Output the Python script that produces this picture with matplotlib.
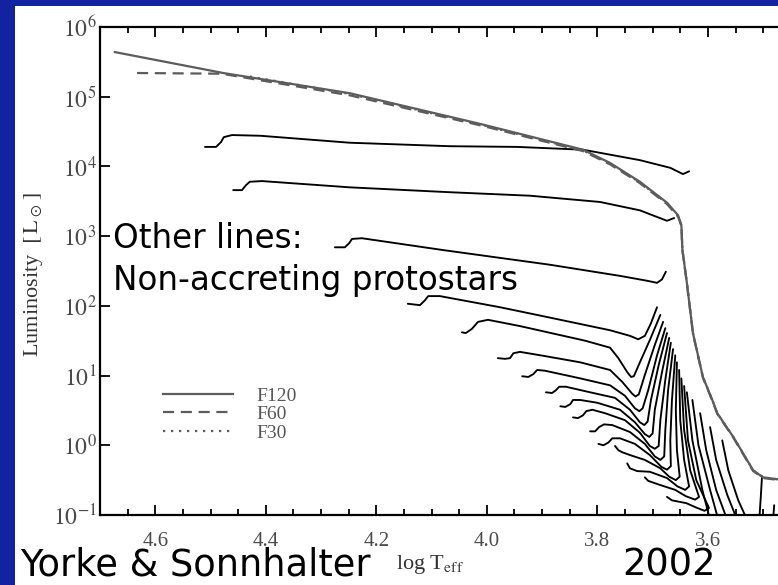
import matplotlib
matplotlib.use("Agg")
import matplotlib.pyplot as plt
import numpy as np
from matplotlib.patches import Rectangle
from matplotlib.lines import Line2D
from matplotlib.ticker import FixedLocator, MultipleLocator, NullLocator

plt.rcParams['mathtext.fontset'] = 'stix'

# ---------------- data: log Teff and log L ----------------
# accreting protostar tracks
f120_logt = [4.673, 4.477, 4.248, 4.012, 3.826, 3.777, 3.723, 3.674, 3.654, 3.648,
             3.646, 3.638, 3.627, 3.609, 3.592, 3.583, 3.554, 3.518, 3.500, 3.451]
f120_logl = [5.64, 5.34, 5.05, 4.61, 4.24, 4.05, 3.78, 3.48, 3.30, 3.16,
             2.80, 2.33, 1.61, 0.98, 0.65, 0.46, 0.12, -0.36, -0.46, -0.51]

f60_logt = [4.633, 4.480, 4.248, 4.012, 3.826, 3.777, 3.723, 3.674, 3.654, 3.648,
            3.646, 3.638, 3.627, 3.609, 3.592, 3.583, 3.554, 3.518, 3.500, 3.451]
f60_logl = [5.34, 5.33, 5.02, 4.59, 4.22, 4.03, 3.76, 3.46, 3.28, 3.15,
            2.79, 2.32, 1.60, 0.97, 0.64, 0.45, 0.11, -0.37, -0.47, -0.52]

f30_logt = [4.429, 4.248, 4.012, 3.826, 3.777, 3.723, 3.674, 3.654, 3.648,
            3.646, 3.638, 3.627, 3.609, 3.592, 3.583, 3.554, 3.518, 3.500, 3.451]
f30_logl = [5.29, 5.04, 4.60, 4.23, 4.04, 3.77, 3.47, 3.29, 3.15,
            2.80, 2.33, 1.61, 0.98, 0.65, 0.46, 0.12, -0.36, -0.46, -0.51]

# non-accreting pre-main-sequence tracks
pms_a_logt = [4.510, 4.490, 4.481, 4.476, 4.461, 4.410, 4.248, 4.067, 3.945, 3.826, 3.723, 3.668, 3.645, 3.634]
pms_a_logl = [4.28, 4.28, 4.35, 4.42, 4.45, 4.44, 4.34, 4.29, 4.28, 4.24, 4.09, 3.98, 3.89, 3.93]

pms_b_logt = [4.459, 4.443, 4.436, 4.429, 4.407, 4.248, 4.067, 3.922, 3.795, 3.723, 3.674, 3.661]
pms_b_logl = [3.66, 3.66, 3.73, 3.78, 3.79, 3.70, 3.63, 3.58, 3.49, 3.37, 3.22, 3.26]

pms_c_logt = [4.275, 4.257, 4.249, 4.244, 4.226, 4.079, 3.886, 3.759, 3.710, 3.692, 3.683, 3.676]
pms_c_logl = [2.84, 2.84, 2.90, 2.96, 2.97, 2.80, 2.59, 2.43, 2.36, 2.33, 2.38, 2.49]

pms_d_logt = [3.692, 3.703, 3.714, 3.726, 3.741, 3.777, 3.891, 3.976, 4.085, 4.106, 4.112, 4.121, 4.143]
pms_d_logl = [1.98, 1.75, 1.57, 1.52, 1.57, 1.65, 1.84, 1.98, 2.14, 2.14, 2.08, 2.01, 2.03]

pms_e_logt = [3.686, 3.705, 3.723, 3.734, 3.739, 3.746, 3.762, 3.777, 3.822, 3.867, 3.940, 3.998, 4.016, 4.027, 4.038, 4.045]
pms_e_logl = [1.87, 1.51, 1.19, 0.99, 0.98, 1.05, 1.25, 1.40, 1.50, 1.58, 1.71, 1.80, 1.77, 1.67, 1.61, 1.62]

pms_f_logt = [3.681, 3.696, 3.714, 3.725, 3.731, 3.737, 3.755, 3.777, 3.831, 3.895, 3.940, 3.952, 3.958, 3.967, 3.980]
pms_f_logl = [1.77, 1.44, 1.01, 0.73, 0.70, 0.74, 0.91, 1.08, 1.19, 1.28, 1.34, 1.32, 1.25, 1.24, 1.25]

pms_g_logt = [3.677, 3.692, 3.708, 3.718, 3.724, 3.732, 3.750, 3.777, 3.831, 3.895, 3.909, 3.916, 3.925, 3.936]
pms_g_logl = [1.68, 1.29, 0.79, 0.53, 0.49, 0.53, 0.71, 0.86, 0.96, 1.07, 1.08, 1.02, 0.98, 0.99]

pms_h_logt = [3.674, 3.689, 3.703, 3.709, 3.715, 3.723, 3.741, 3.768, 3.813, 3.857, 3.869, 3.875, 3.882, 3.893]
pms_h_logl = [1.61, 1.15, 0.65, 0.34, 0.29, 0.33, 0.51, 0.68, 0.76, 0.84, 0.84, 0.79, 0.75, 0.76]

pms_i_logt = [3.670, 3.683, 3.696, 3.700, 3.706, 3.714, 3.732, 3.759, 3.800, 3.831, 3.844, 3.849, 3.858, 3.867]
pms_i_logl = [1.54, 1.05, 0.51, 0.17, 0.12, 0.16, 0.33, 0.51, 0.61, 0.65, 0.65, 0.59, 0.55, 0.56]

pms_j_logt = [3.667, 3.677, 3.686, 3.689, 3.696, 3.705, 3.723, 3.750, 3.786, 3.809, 3.820, 3.826, 3.835, 3.844]
pms_j_logl = [1.47, 0.94, 0.36, -0.01, -0.05, -0.01, 0.18, 0.36, 0.46, 0.51, 0.49, 0.43, 0.39, 0.40]

pms_k_logt = [3.663, 3.672, 3.677, 3.679, 3.686, 3.696, 3.714, 3.741, 3.773, 3.788, 3.797, 3.804, 3.813]
pms_k_logl = [1.38, 0.79, 0.22, -0.16, -0.21, -0.16, 0.02, 0.19, 0.29, 0.30, 0.26, 0.20, 0.20]

pms_l_logt = [3.659, 3.665, 3.668, 3.667, 3.674, 3.684, 3.705, 3.732, 3.759, 3.773, 3.780, 3.789, 3.798]
pms_l_logl = [1.29, 0.65, 0.07, -0.30, -0.35, -0.31, -0.14, 0.02, 0.10, 0.10, 0.04, 0.00, 0.02]

pms_m_logt = [3.656, 3.658, 3.656, 3.651, 3.658, 3.670, 3.686, 3.714, 3.741, 3.755, 3.762, 3.768]
pms_m_logl = [1.19, 0.51, -0.07, -0.45, -0.50, -0.45, -0.33, -0.21, -0.14, -0.10, -0.07, -0.01]

pms_n_logt = [3.652, 3.650, 3.643, 3.634, 3.641, 3.655, 3.674, 3.705, 3.728, 3.741, 3.746]
pms_n_logl = [1.08, 0.36, -0.21, -0.59, -0.64, -0.59, -0.47, -0.38, -0.37, -0.33, -0.26]

pms_o_logt = [3.648, 3.643, 3.632, 3.616, 3.623, 3.640, 3.659, 3.690, 3.708, 3.714]
pms_o_logl = [0.96, 0.22, -0.36, -0.74, -0.78, -0.73, -0.64, -0.56, -0.51, -0.46]

pms_p_logt = [3.643, 3.636, 3.621, 3.598, 3.606, 3.622, 3.639, 3.665, 3.674]
pms_p_logl = [0.85, 0.07, -0.50, -0.90, -0.94, -0.89, -0.83, -0.79, -0.74]

# fully convective low-mass tracks
pms_q_logt = [3.638, 3.628, 3.610, 3.596]
pms_q_logl = [0.76, 0.07, -0.64, -1.07]
pms_r_logt = [3.628, 3.617, 3.596, 3.581]
pms_r_logl = [0.65, 0.00, -0.64, -1.07]
pms_s_logt = [3.614, 3.603, 3.585, 3.565]
pms_s_logl = [0.46, -0.07, -0.64, -1.07]
pms_t_logt = [3.596, 3.585, 3.565, 3.547]
pms_t_logl = [0.26, -0.21, -0.71, -1.07]
pms_u_logt = [3.574, 3.563, 3.545, 3.529]
pms_u_logl = [0.07, -0.36, -0.79, -1.07]
pms_v_logt = [3.502, 3.504, 3.507]
pms_v_logl = [-0.44, -0.71, -1.07]
pms_w_logt = [3.480, 3.482]
pms_w_logl = [-0.86, -1.07]

# axis ticks and labels
xtick_values = [4.6, 4.4, 4.2, 4.0, 3.8, 3.6]
xtick_labels = ["4.6", "4.4", "4.2", "4.0", "3.8", "3.6"]
ytick_exponents = [-1, 0, 1, 2, 3, 4, 5, 6]
legend_labels = ["F120", "F60", "F30"]

# ---------------- figure ----------------
W, H = 778, 585
slide_blue = "#13239f"
fig = plt.figure(figsize=(W / 100, H / 100), dpi=100, facecolor=slide_blue)
fig.add_artist(Rectangle((15 / W, 0), 1 - 15 / W, 1 - 6 / H, transform=fig.transFigure,
                         facecolor="white", edgecolor="none", zorder=0))

ax = fig.add_axes([100 / W, 1 - 515 / H, 688 / W, 488 / H])
ax.set_facecolor("white")
ax.set_yscale("log")
ax.set_xlim(4.7, 3.455)
ax.set_ylim(1e-1, 1e6)

pms_tracks = [
    (pms_a_logt, pms_a_logl), (pms_b_logt, pms_b_logl), (pms_c_logt, pms_c_logl),
    (pms_d_logt, pms_d_logl), (pms_e_logt, pms_e_logl), (pms_f_logt, pms_f_logl),
    (pms_g_logt, pms_g_logl), (pms_h_logt, pms_h_logl), (pms_i_logt, pms_i_logl),
    (pms_j_logt, pms_j_logl), (pms_k_logt, pms_k_logl), (pms_l_logt, pms_l_logl),
    (pms_m_logt, pms_m_logl), (pms_n_logt, pms_n_logl), (pms_o_logt, pms_o_logl),
    (pms_p_logt, pms_p_logl), (pms_q_logt, pms_q_logl), (pms_r_logt, pms_r_logl),
    (pms_s_logt, pms_s_logl), (pms_t_logt, pms_t_logl), (pms_u_logt, pms_u_logl),
    (pms_v_logt, pms_v_logl), (pms_w_logt, pms_w_logl),
]
for lt, ll in pms_tracks:
    ax.plot(lt, 10 ** np.asarray(ll), color="black", lw=1.35,
            solid_joinstyle="round", solid_capstyle="round", zorder=3)

gray = "#5c5c5c"
acc_styles = [(f120_logt, f120_logl, "-"), (f60_logt, f60_logl, (0, (5, 3))),
              (f30_logt, f30_logl, (0, (1, 2.6)))]
handles = []
for (lt, ll, ls), lab in zip(acc_styles, legend_labels):
    ax.plot(lt, 10 ** np.asarray(ll), color=gray, lw=1.6, ls=ls, zorder=4)
    handles.append(Line2D([], [], color=gray, lw=1.6, ls=ls, label=lab))

leg = ax.legend(handles=handles, loc="upper left", bbox_to_anchor=(63 / 688, 128 / 488),
                frameon=False, borderaxespad=0, borderpad=0, handlelength=3.6,
                handletextpad=1.2, labelspacing=0.05,
                prop={"family": "Liberation Serif", "size": 14})
for t in leg.get_texts():
    t.set_color("#555555")

# ticks
ax.xaxis.set_major_locator(FixedLocator(xtick_values))
ax.set_xticklabels(xtick_labels)
ax.xaxis.set_minor_locator(MultipleLocator(0.05))
ax.yaxis.set_major_locator(FixedLocator([10.0 ** e for e in ytick_exponents]))
ax.set_yticklabels([f"$10^{{{e}}}$" for e in ytick_exponents])
ax.yaxis.set_minor_locator(NullLocator())
ax.tick_params(which="both", direction="in", top=True, right=True, width=1.3,
               colors="black", labelcolor="#4a4a4a")
ax.tick_params(which="major", length=7.5)
ax.tick_params(which="minor", length=4)
ax.tick_params(axis="x", pad=12, labelsize=15)
ax.tick_params(axis="y", pad=2.5, labelsize=17)
for lab in ax.get_xticklabels():
    lab.set_family("Liberation Serif")
for sp in ax.spines.values():
    sp.set_linewidth(1.6)

ax.set_xlabel(r"log T$_{\rm eff}$", family="Liberation Serif", fontsize=16, color="#333333")
ax.xaxis.set_label_coords(330 / 688, -38 / 488)
ax.set_ylabel(r"Luminosity  $[\,\mathrm{L}_\odot\,]$", family="Liberation Serif",
              fontsize=16, color="#333333")
ax.yaxis.set_label_coords(-55 / 688, 241 / 488)

# slide annotations
fig.text(113 / W, 1 - 248 / H, "Other lines:", family="DejaVu Sans", fontsize=23.5,
         color="black", va="baseline", zorder=10)
fig.text(113 / W, 1 - 290 / H, "Non-accreting protostars", family="DejaVu Sans",
         fontsize=23.5, color="black", va="baseline", zorder=10)
fig.text(20 / W, 1 - 576 / H, "Yorke & Sonnhalter", family="DejaVu Sans", fontsize=26.5,
         color="black", va="baseline", zorder=10)
fig.text(622 / W, 1 - 576 / H, "2002", family="DejaVu Sans", fontsize=26.5,
         color="black", va="baseline", zorder=10)

fig.savefig("out.png", dpi=100, facecolor=slide_blue)
